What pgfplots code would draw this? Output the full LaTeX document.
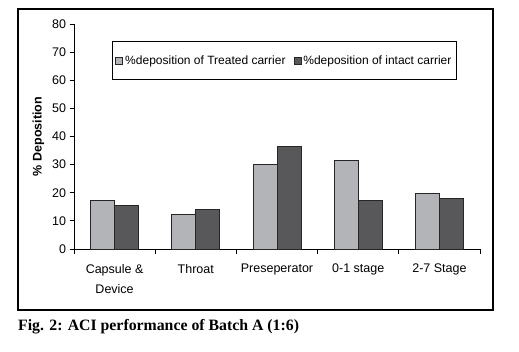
\documentclass[border=0pt]{standalone}
\usepackage{pgfplots}
\pgfplotsset{compat=1.18}
\usepackage{fontspec}
\setmainfont{Liberation Sans}
\newfontfamily\capfont{Liberation Serif}
\definecolor{lightbar}{RGB}{179,180,184}
\definecolor{darkbar}{RGB}{88,88,90}
\begin{document}
\begin{tikzpicture}[x=1bp,y=1bp]
\path (0,0) rectangle (519,351);
\draw[line width=1.1bp] (18,41) rectangle (493,342);
\node[anchor=west,inner xsep=0pt,font=\capfont\bfseries\fontsize{15.8bp}{18bp}\selectfont] at (18,24) {Fig. 2: ACI performance of Batch A (1:6)};
\begin{axis}[
  at={(74bp,102bp)}, anchor=south west,
  scale only axis, width=406bp, height=225bp,
  xmin=0.5, xmax=5.5, ymin=0, ymax=80,
  axis x line*=bottom, axis y line*=left,
  axis line style={line width=0.9bp},
  ybar=0pt, bar width=24bp,
  ytick={0,10,...,80},
  xtick={1,2,3,4,5},
  xticklabels={{Capsule \&\\Device},Throat,Preseperator,0-1 stage,2-7 Stage},
  minor xtick={0.5,1.5,...,5.5},
  major x tick style={draw=none},
  minor tick length=4.5bp, major tick length=4.5bp,
  tick align=outside,
  tick style={black, line width=0.9bp},
  xticklabel style={align=center, yshift=-7bp, font=\fontsize{12.5bp}{20bp}\selectfont},
  yticklabel style={font=\fontsize{12.5bp}{14bp}\selectfont},
  /pgf/number format/assume math mode=true,
  ylabel={\bfseries\% Deposition},
  ylabel style={font=\fontsize{12.5bp}{14bp}\selectfont, yshift=1bp},
  legend style={at={(0.0936,0.924)}, anchor=north west, draw=black, line width=0.9bp,
    font=\fontsize{12bp}{14bp}\selectfont, inner xsep=3bp, inner ysep=12bp,
    /tikz/every even column/.append style={column sep=6bp}},
  legend columns=2,
  legend image code/.code={\draw[#1, line width=0.8bp] (0bp,-3.5bp) rectangle (7bp,3.5bp);},
]
\addplot[fill=lightbar, draw=black!85, line width=1bp] coordinates {(1,17.1) (2,12.1) (3,29.9) (4,31.3) (5,19.9)};
\addplot[fill=darkbar, draw=black!85, line width=1bp] coordinates {(1,15.3) (2,13.9) (3,36.4) (4,17.1) (5,17.8)};
\legend{\%deposition of Treated carrier,\%deposition of intact carrier}
\end{axis}
\end{tikzpicture}
\end{document}
